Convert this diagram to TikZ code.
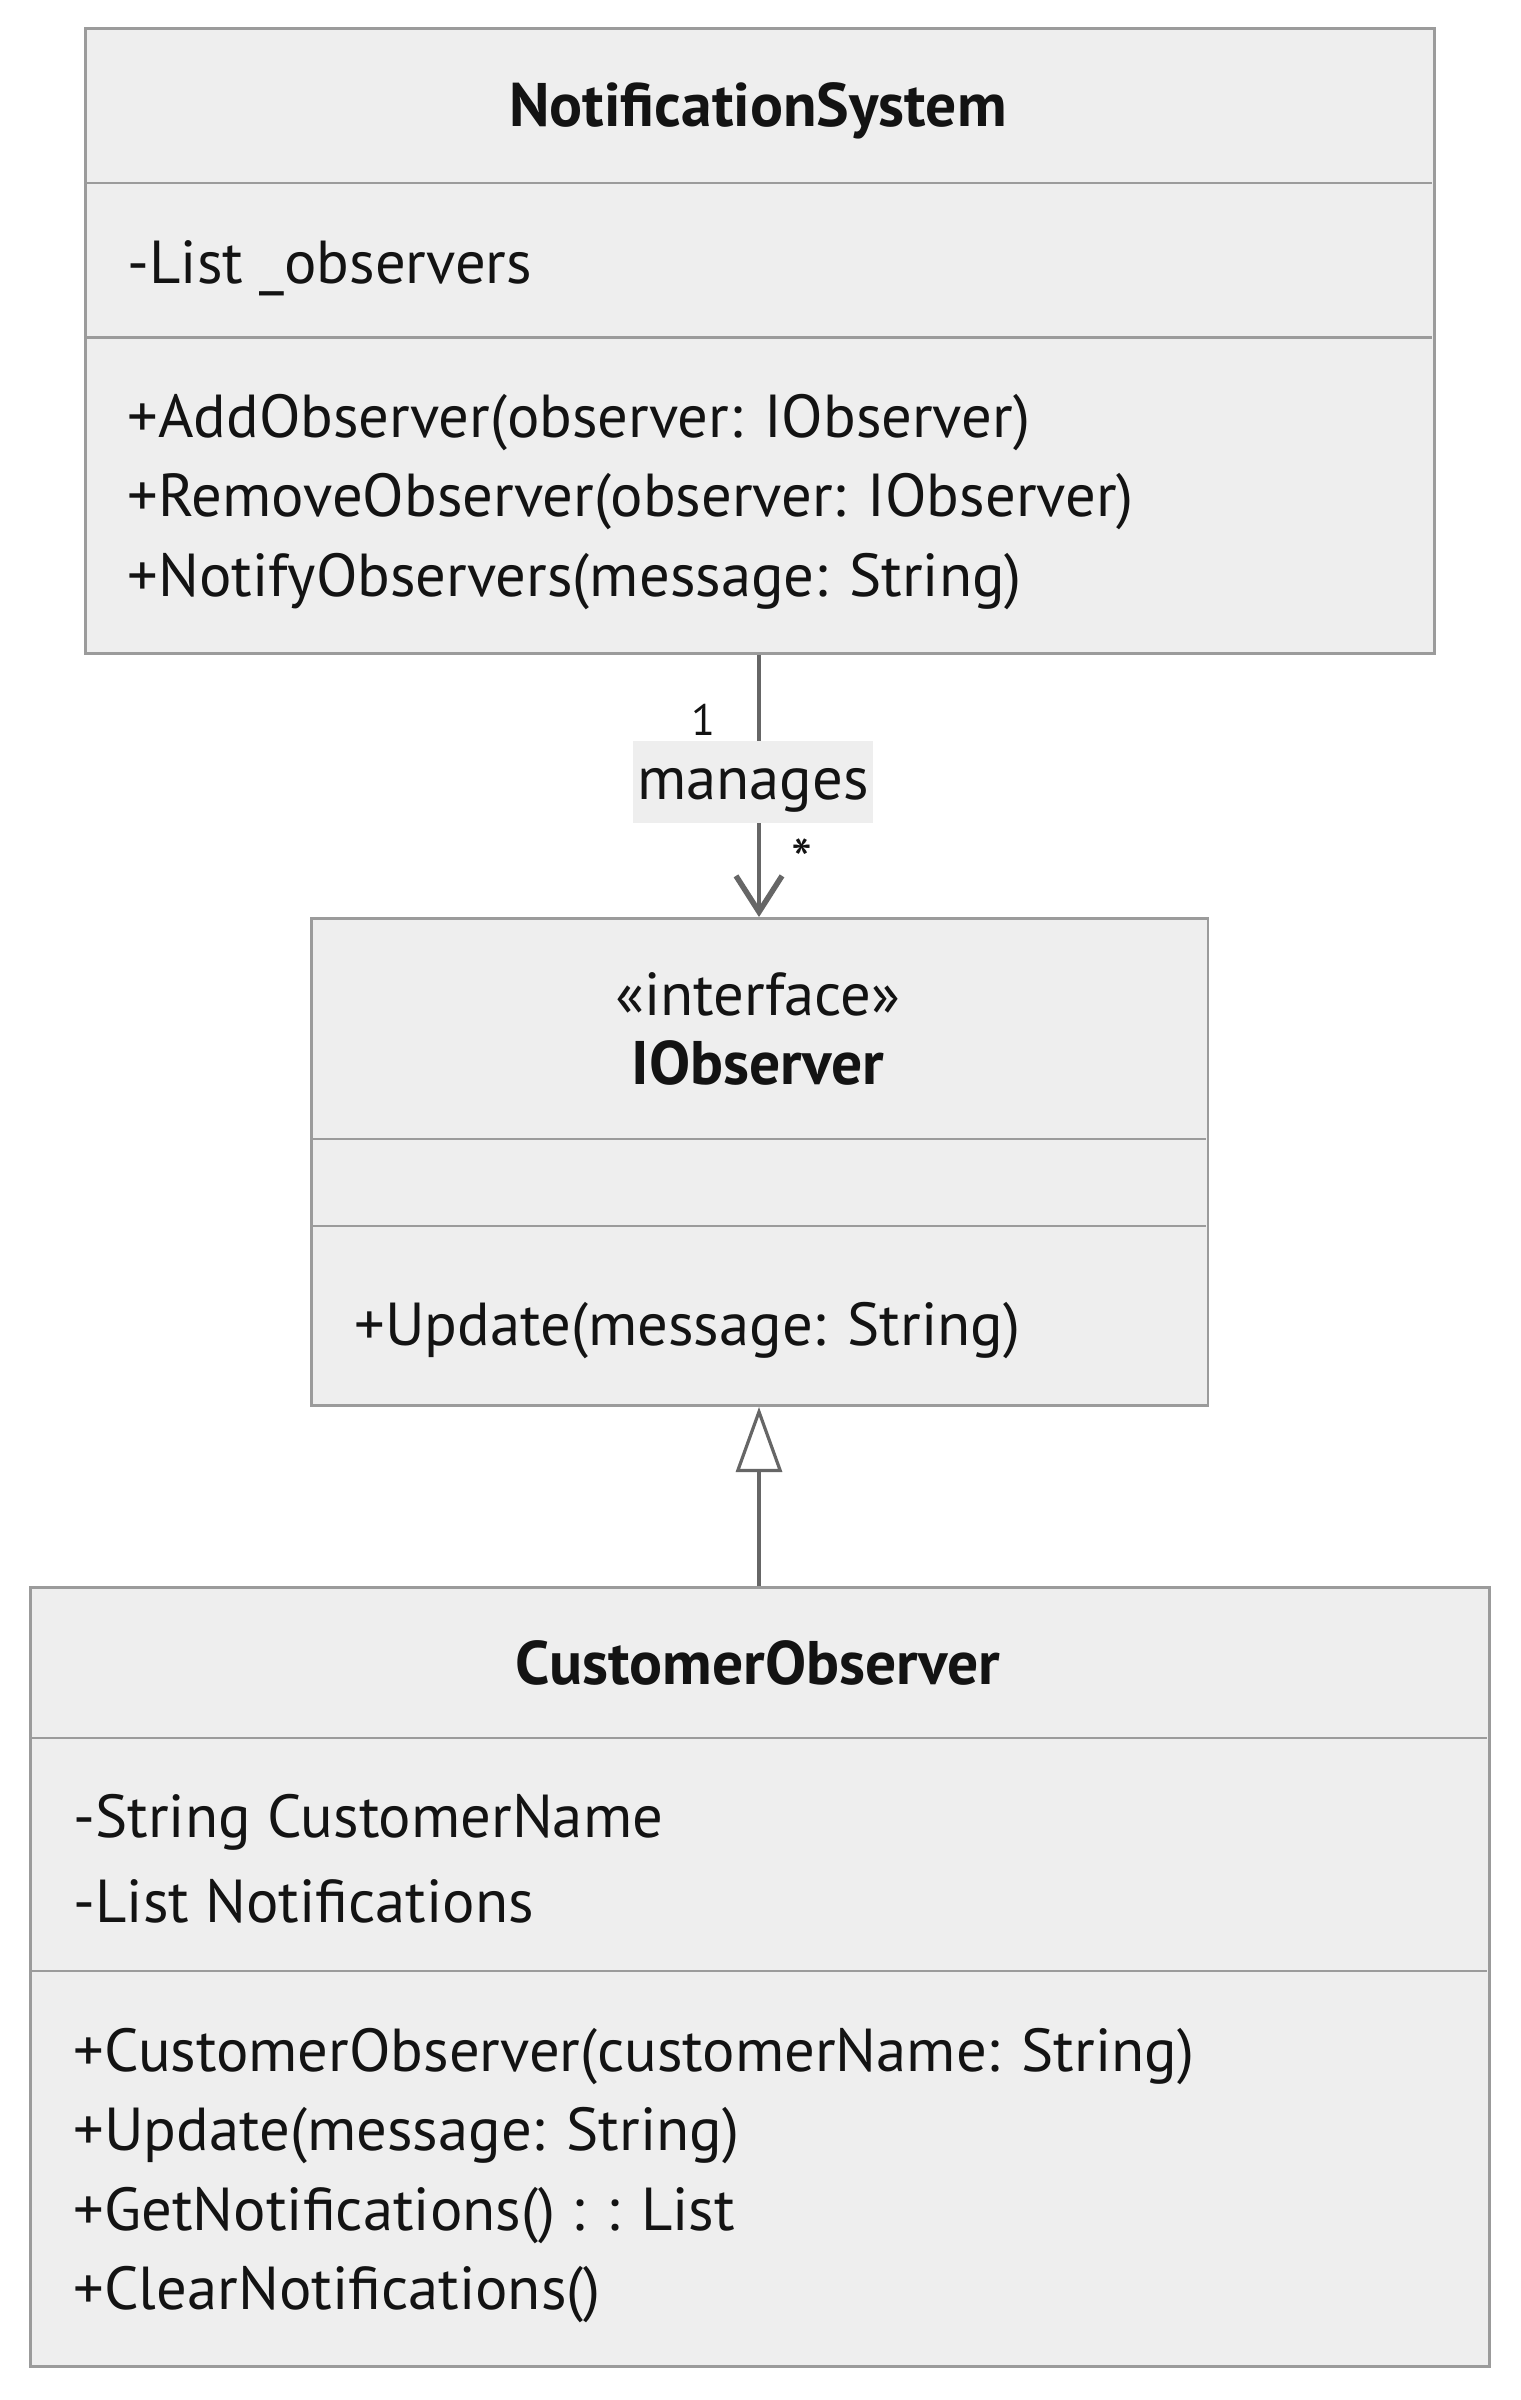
\documentclass[tikz,border=0pt]{standalone}
\usepackage{fontspec}
\setmainfont{PT Sans}
\usetikzlibrary{arrows.meta}
\definecolor{boxfill}{HTML}{EEEEEE}
\definecolor{boxline}{HTML}{9B9B9B}
\definecolor{edgeline}{HTML}{666666}
\definecolor{ink}{HTML}{131313}
\tikzset{
	classbox/.style={draw=boxline, fill=boxfill, line width=0.027cm, inner sep=0, anchor=north west},
	divider/.style={draw=boxline, line width=0.027cm},
	member/.style={anchor=west, inner sep=0, text=ink, font=\fontsize{17.25}{20}\selectfont},
	title/.style={inner sep=0, text=ink, font=\fontsize{17.5}{20}\selectfont\bfseries},
	mult/.style={inner sep=0, text=ink, font=\fontsize{12.5}{14}\selectfont},
	assoc/.style={draw=edgeline, line width=0.032cm, -{Straight Barb[length=0.36cm, width=0.46cm, line width=0.055cm]}},
	inherit/.style={draw=edgeline, line width=0.032cm, -{Triangle[open, length=0.65cm, width=0.46cm, line width=0.032cm, fill=white]}}
}
\begin{document}
\begin{tikzpicture}[x=0.01cm, y=-0.01cm, line join=miter]
	\fill[white] (0,0) rectangle (1520,2400);
	\useasboundingbox (0,0) rectangle (1520,2400);
	% NotificationSystem
	\node[classbox, minimum width=13.48cm, minimum height=6.245cm] (ns) at (84,27.5) {};
	\draw[divider] (84,183) -- (1432,183) (84,337.5) -- (1432,337.5);
	\node[title] (nsname) at (758,111) {NotificationSystem};
	\node[member] (nsattr) at (127,268) {-List \_observers};
	\foreach \y/\txt [count=\i] in {423/{+AddObserver(observer: IObserver)}, 502/{+RemoveObserver(observer: IObserver)}, 582/{+NotifyObservers(message: String)}}
		\node[member] (nsop\i) at (127,\y) {\txt};
	% IObserver
	\node[classbox, minimum width=8.96cm, minimum height=4.87cm] (iobs) at (310,917) {};
	\draw[divider] (310,1139) -- (1206,1139) (310,1226) -- (1206,1226);
	\node[member, anchor=center] (iobsstereo) at (758,994) {«interface»};
	\node[title] (iobsname) at (758,1063) {IObserver};
	\node[member] (iobsop1) at (354,1331) {+Update(message: String)};
	% CustomerObserver
	\node[classbox, minimum width=14.58cm, minimum height=7.79cm] (cust) at (29,1586) {};
	\draw[divider] (29,1738) -- (1487,1738) (29,1971) -- (1487,1971);
	\node[title] (custname) at (758,1663) {CustomerObserver};
	\foreach \y/\txt [count=\i] in {1822/{-String CustomerName}, 1901/{-List Notifications}}
		\node[member] (custattr\i) at (73,\y) {\txt};
	\foreach \y/\txt [count=\i] in {2057/{+CustomerObserver(customerName: String)}, 2136/{+Update(message: String)}, 2216/{+GetNotifications() : : List}, 2295/{+ClearNotifications()}}
		\node[member] (custop\i) at (73,\y) {\txt};
	% relations
	\draw[assoc] (ns.south -| 759,0) -- (iobs.north -| 759,0);
	\node[member, anchor=center, fill=boxfill, minimum width=2.4cm, minimum height=0.82cm, text height=0.36cm, text depth=0.02cm] (manages) at (753,782) {manages};
	\node[mult] (multone) at (703,720) {1};
	\node[mult, font=\fontsize{17}{18}\selectfont] (multmany) at (802,860) {*};
	\draw[inherit] (cust.north -| 759,0) -- (iobs.south -| 759,0);
\end{tikzpicture}
\end{document}
